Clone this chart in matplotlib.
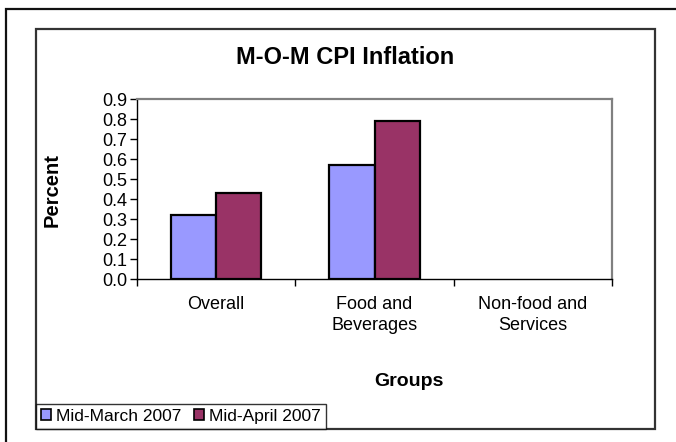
import matplotlib
matplotlib.use('Agg')
import matplotlib.pyplot as plt
from matplotlib.patches import Rectangle, Patch
import numpy as np

groups = ['Overall', 'Food and\nBeverages', 'Non-food and\nServices']
series_names = ['Mid-March 2007', 'Mid-April 2007']
mid_march = [0.32, 0.57, 0.0]
mid_april = [0.43, 0.79, 0.0]
yticks = [0.0, 0.1, 0.2, 0.3, 0.4, 0.5, 0.6, 0.7, 0.8, 0.9]

colors = ['#9999FF', '#993366']

plt.rcParams['font.family'] = ['Liberation Sans', 'DejaVu Sans']

W, H = 676, 442
fig = plt.figure(figsize=(W / 100, H / 100), dpi=100)

def fx(px):
    return px / W

def fy(py):
    return 1 - py / H

# outer frame (only top and left visible) and chart area frame
fig.patches.append(Rectangle((fx(6), fy(460)), fx(700), fy(9) - fy(460),
                             transform=fig.transFigure, fill=False,
                             edgecolor='#111111', lw=1.6))
fig.patches.append(Rectangle((fx(35.5), fy(429)), fx(655) - fx(35.5), fy(28.5) - fy(429),
                             transform=fig.transFigure, fill=False,
                             edgecolor='#333333', lw=1.6))

ax = fig.add_axes([fx(137), fy(279), fx(612) - fx(137), fy(99) - fy(279)])

x = np.arange(len(groups))
w = 0.286
# empty bars get no outline (Excel draws nothing for zero)
lw_march = [1.6 if v > 0 else 0 for v in mid_march]
lw_april = [1.6 if v > 0 else 0 for v in mid_april]
ax.bar(x - w / 2, mid_march, w, color=colors[0], edgecolor='black', linewidth=lw_march, zorder=3)
ax.bar(x + w / 2, mid_april, w, color=colors[1], edgecolor='black', linewidth=lw_april, zorder=3)

ax.set_xlim(-0.5, len(groups) - 0.5)
ax.set_ylim(0, 0.9)
ax.set_yticks(yticks)
ax.set_yticklabels(['%.1f' % v for v in yticks], fontsize=13)

ax.set_xticks(np.arange(len(groups) + 1) - 0.5)
ax.set_xticklabels([])
ax.set_xticks(x, minor=True)
ax.set_xticklabels(groups, minor=True, fontsize=13, linespacing=1.3)
ax.tick_params(axis='x', which='minor', length=0, pad=12)
ax.tick_params(axis='x', which='major', length=5, width=1, direction='out')
ax.tick_params(axis='y', length=5, width=1, direction='out', pad=2)

for s in ['top', 'right']:
    ax.spines[s].set_color('#808080')
    ax.spines[s].set_linewidth(1.6)
for s in ['left', 'bottom']:
    ax.spines[s].set_color('black')
    ax.spines[s].set_linewidth(1.0)

fig.text(fx(345), fy(57), 'M-O-M CPI Inflation', fontsize=17, fontweight='bold',
         ha='center', va='center')
fig.text(fx(52), fy(190), 'Percent', fontsize=14.5, fontweight='bold',
         ha='center', va='center', rotation=90)
fig.text(fx(409), fy(382), 'Groups', fontsize=14, fontweight='bold',
         ha='center', va='center')

handles = [Patch(facecolor=c, edgecolor='black', linewidth=1.2) for c in colors]
leg = fig.legend(handles, series_names, loc='lower left',
                 bbox_to_anchor=(fx(35.5), fy(429)), ncol=2, fontsize=12.5,
                 frameon=True, fancybox=False, edgecolor='black',
                 borderaxespad=0, handlelength=0.6, handleheight=0.6,
                 handletextpad=0.3, columnspacing=0.7, borderpad=0.3)
leg.get_frame().set_linewidth(1.0)

fig.savefig('out.png', dpi=100)
